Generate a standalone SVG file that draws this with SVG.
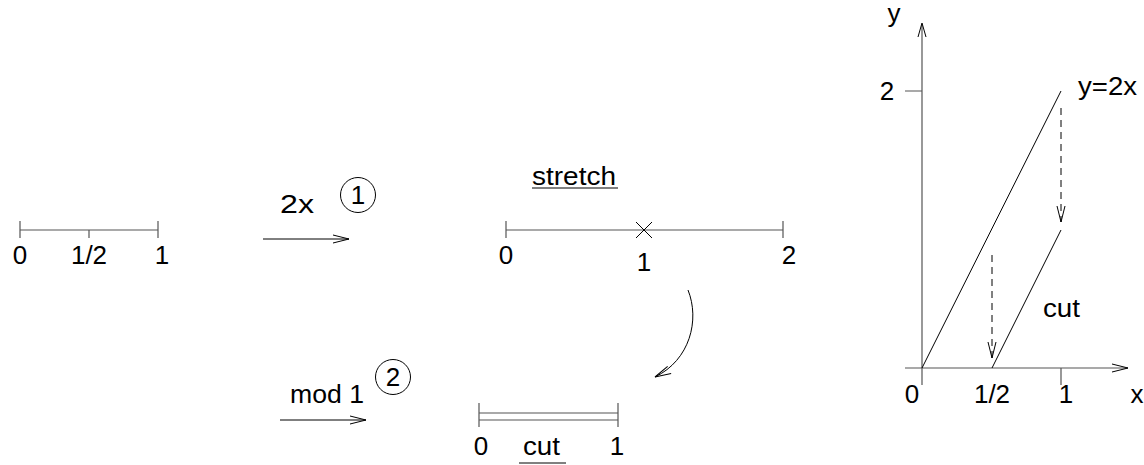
<svg xmlns="http://www.w3.org/2000/svg" width="1144" height="465" viewBox="0 0 1144 465">
<style>
text{font-family:"Liberation Sans",Arial,sans-serif;font-size:26px;fill:#000}
.c{text-anchor:middle}
.l{stroke:#000;stroke-width:1;fill:none}
.g{stroke:#555;stroke-width:1.2;fill:none}
.d{stroke:#000;stroke-width:1;fill:none;stroke-dasharray:7,5}
</style>
<defs>
<marker id="ah" markerWidth="18" markerHeight="10" refX="17" refY="5" orient="auto" markerUnits="userSpaceOnUse">
<path d="M1,1 L17,5 L1,9" fill="none" stroke="#000" stroke-width="1"/>
</marker>
</defs>
<g id="seg1">
<path class="g" d="M20,230 H158 M20,221 V238 M158,221 V238 M89,230 V238"/>
<text class="c" x="20" y="264">0</text>
<text class="c" x="89" y="264">1/2</text>
<text class="c" x="162" y="264">1</text>
</g>
<g id="step1">
<text x="280" y="213" textLength="34" lengthAdjust="spacingAndGlyphs">2x</text>
<circle cx="358" cy="195" r="17.5" class="l"/>
<text class="c" x="358" y="204">1</text>
</g>
<g id="seg2">
<text x="532" y="185" textLength="84" lengthAdjust="spacingAndGlyphs">stretch</text>
<path class="l" d="M532,188 H618"/>
<path class="g" d="M506,230 H783 M506,221 V238 M783,221 V238"/>
<path class="l" d="M636,222 L652,238 M652,222 L636,238"/>
<text class="c" x="506" y="264">0</text>
<text class="c" x="644" y="271">1</text>
<text class="c" x="789" y="264">2</text>
</g>
<g id="step2">
<text x="290" y="403" textLength="74" lengthAdjust="spacingAndGlyphs">mod 1</text>
<circle cx="393" cy="377" r="17.5" class="l"/>
<text class="c" x="393" y="386">2</text>
</g>
<g id="seg3">
<path class="g" d="M479,413 H618 M479,420 H618 M479,403 V427 M618,403 V427"/>
<text class="c" x="481" y="455">0</text>
<text class="c" x="617" y="455">1</text>
<text x="523" y="455" textLength="37" lengthAdjust="spacingAndGlyphs">cut</text>
<path class="l" d="M519,463 H566"/>
</g>
<g id="graph">
<path class="g" d="M922,385 V24 M905,368 H1128 M905,91 H922 M1061,368 V385"/>
<path class="l" d="M918,37 L922,23 L926,37 M1112,364 L1128,368 L1112,372"/>
<path class="l" d="M922,368 L1061,91 M992,368 L1061,230"/>
<text class="c" x="894" y="22">y</text>
<text class="c" x="887" y="100">2</text>
<text x="1078" y="95" textLength="59" lengthAdjust="spacingAndGlyphs">y=2x</text>
<text x="1043" y="317" textLength="37" lengthAdjust="spacingAndGlyphs">cut</text>
<text class="c" x="912" y="403">0</text>
<text class="c" x="992" y="403">1/2</text>
<text class="c" x="1066" y="403">1</text>
<text class="c" x="1137" y="403">x</text>
</g>
<g id="connectors">
<path class="l" d="M263,239 H349" marker-end="url(#ah)"/>
<path class="l" d="M280,420 H366" marker-end="url(#ah)"/>
<path class="l" d="M688,290 C700,320 690,360 655,377" marker-end="url(#ah)"/>
<path class="d" d="M1061,108 V222" marker-end="url(#ah)"/>
<path class="d" d="M992,255 V358" marker-end="url(#ah)"/>
</g>
</svg>
